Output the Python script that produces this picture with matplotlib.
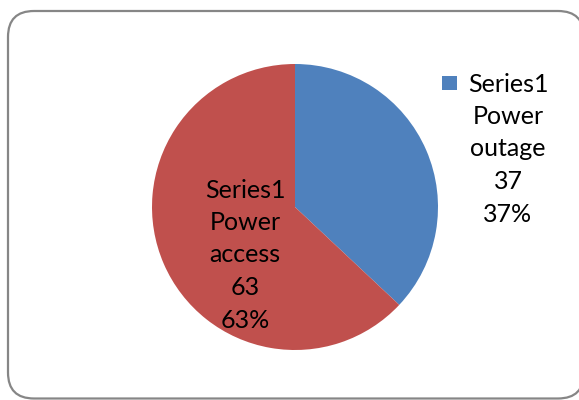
import matplotlib
matplotlib.use("Agg")
import matplotlib.pyplot as plt
from matplotlib.patches import FancyBboxPatch, Rectangle

series_name = "Series1"
categories = ["Power outage", "Power access"]
values = [37, 63]
colors = ["#4F81BD", "#C0504D"]

W, H = 579, 400
fig = plt.figure(figsize=(W / 100, H / 100), dpi=100)
ax = fig.add_axes([0, 0, 1, 1])
ax.set_xlim(0, W)
ax.set_ylim(0, H)
ax.set_aspect("equal")
ax.axis("off")

# chart area frame with rounded corners
frame = FancyBboxPatch((8, 1.5), 576, 387.5,
                       boxstyle="round,pad=0,rounding_size=26",
                       facecolor="white", edgecolor="#868686",
                       linewidth=1.6, clip_on=False, zorder=0)
ax.add_patch(frame)

cx, cy, r = 295, H - 207, 143
wedges, _ = ax.pie(values, colors=colors, startangle=90, counterclock=False,
                   center=(cx, cy), radius=r, frame=True,
                   wedgeprops=dict(linewidth=0))
ax.set_xlim(0, W)
ax.set_ylim(0, H)
ax.axis("off")

total = sum(values)
labels = []
for cat, v in zip(categories, values):
    words = cat.split()
    labels.append("\n".join([series_name] + words + [str(v), f"{v / total * 100:.0f}%"]))

font = dict(family=["Lato", "DejaVu Sans"], fontsize=18, color="black",
            ha="center", va="center", linespacing=1.5)

# outage label sits outside the pie with a colour key
ax.text(508, H - 149, labels[0], **font)
ax.add_patch(Rectangle((442, H - 90), 15, 14, facecolor=colors[0],
                       edgecolor="none"))

# access label inside its slice
ax.text(245, H - 255, labels[1], **font)

fig.savefig("out.png", dpi=100)
